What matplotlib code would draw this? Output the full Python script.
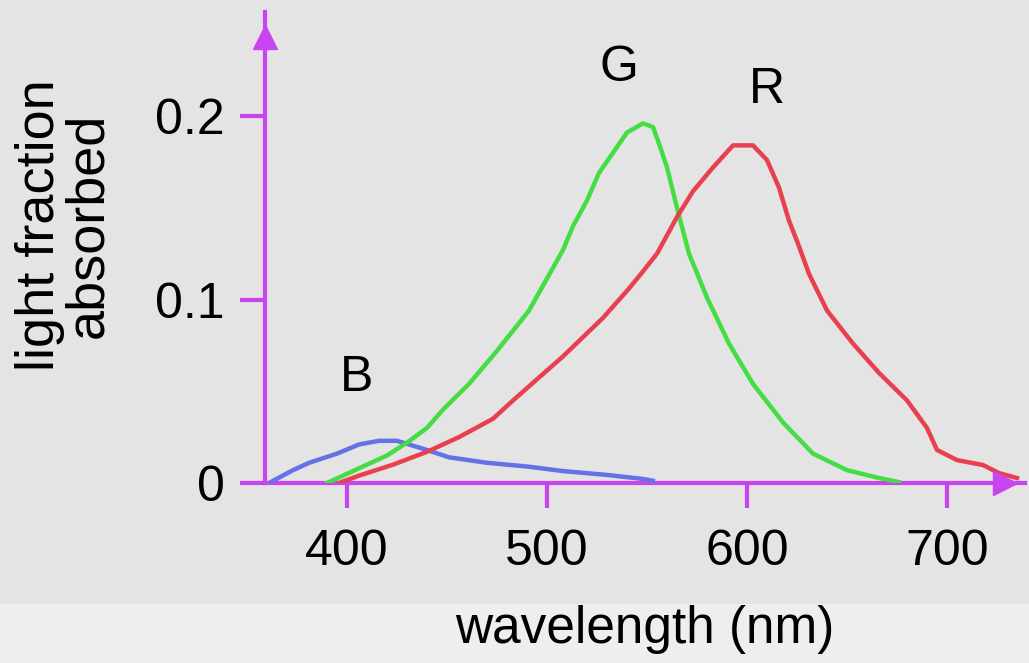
import matplotlib
matplotlib.use("Agg")
import matplotlib.pyplot as plt
from matplotlib.patches import Rectangle

# Courbes d'absorption des cônes
wl_b = [361, 373, 381, 395, 406, 416, 425, 431, 440, 451, 470, 490, 508, 530, 548, 554]
abs_b = [0, 0.007, 0.011, 0.016, 0.021, 0.023, 0.023, 0.021, 0.018, 0.014, 0.011,
         0.009, 0.0065, 0.0044, 0.0022, 0.001]

wl_g = [390, 400, 410, 420, 430, 440, 448, 461, 475, 491, 508, 513, 520, 526, 533,
        540, 548, 553, 556, 560, 565, 571, 580, 591, 603, 618, 633, 650, 666, 676]
abs_g = [0, 0.005, 0.010, 0.015, 0.022, 0.030, 0.040, 0.054, 0.072, 0.094, 0.127,
         0.140, 0.154, 0.169, 0.180, 0.191, 0.196, 0.194, 0.185, 0.172, 0.150, 0.125,
         0.101, 0.076, 0.054, 0.033, 0.016, 0.007, 0.0027, 0.0005]

wl_r = [396, 406, 423, 440, 456, 473, 483, 508, 528, 541, 547, 555, 565, 573, 583,
        593, 603, 610, 616, 621, 626, 631, 640, 653, 666, 680, 690, 695, 705, 718,
        726, 735]
abs_r = [0, 0.004, 0.010, 0.017, 0.025, 0.035, 0.045, 0.069, 0.090, 0.106, 0.114,
         0.125, 0.145, 0.159, 0.172, 0.184, 0.184, 0.176, 0.161, 0.143, 0.129, 0.114,
         0.094, 0.076, 0.060, 0.045, 0.030, 0.018, 0.0125, 0.0098, 0.0054, 0.0027]

x_ticks = [400, 500, 600, 700]
y_ticks = [0, 0.1, 0.2]
y_tick_labels = ["0", "0.1", "0.2"]

violet = "#c844f0"
plt.rcParams["font.family"] = ["Liberation Sans", "DejaVu Sans"]

W, H = 1029, 663
fig = plt.figure(figsize=(W / 100, H / 100), dpi=100, facecolor="#e4e4e4")
# bande claire en bas
fig.patches.append(Rectangle((0, 0), 1, (H - 604) / H, transform=fig.transFigure,
                             facecolor="#eeeeee", edgecolor="none", zorder=0))

left, right, top, bottom = 265, 1025, 12, 483
ax = fig.add_axes([left / W, (H - bottom) / H, (right - left) / W, (bottom - top) / H])
ax.set_facecolor("none")
ax.set_xlim(359, 739)
ax.set_ylim(0, 0.2567)

ax.plot(wl_b, abs_b, color="#6472e6", lw=3.2, solid_capstyle="butt")
ax.plot(wl_g, abs_g, color="#44dd44", lw=3.2)
ax.plot(wl_r, abs_r, color="#e8404e", lw=3.2)

for s in ["top", "right"]:
    ax.spines[s].set_visible(False)
for s in ["left", "bottom"]:
    ax.spines[s].set_color(violet)
    ax.spines[s].set_linewidth(3)
    ax.spines[s].set_zorder(1)

# têtes de flèche des axes
ax.plot([359], [0.243], marker="^", ms=17, color=violet, clip_on=False)
ax.plot([729], [0], marker=">", ms=17, color=violet, clip_on=False)

ax.set_xticks(x_ticks)
ax.set_yticks(y_ticks)
ax.set_yticklabels(y_tick_labels)
ax.tick_params(axis="both", direction="out", length=18, width=3, color=violet,
               labelsize=36)
ax.tick_params(axis="x", pad=15)
ax.tick_params(axis="y", pad=11)

ax.text(405, 0.057, "B", fontsize=36, ha="center", va="center")
ax.text(536, 0.226, "G", fontsize=36, ha="center", va="center")
ax.text(610, 0.214, "R", fontsize=36, ha="center", va="center")

fig.text(645 / W, 1 - 630 / H, "wavelength (nm)", fontsize=37, ha="center", va="center")
fig.text(64 / W, 1 - 225 / H, "light fraction\nabsorbed", fontsize=39, rotation=90,
         ha="center", va="center", linespacing=0.95, multialignment="center")

plt.savefig("out.png", dpi=100, facecolor=fig.get_facecolor())
